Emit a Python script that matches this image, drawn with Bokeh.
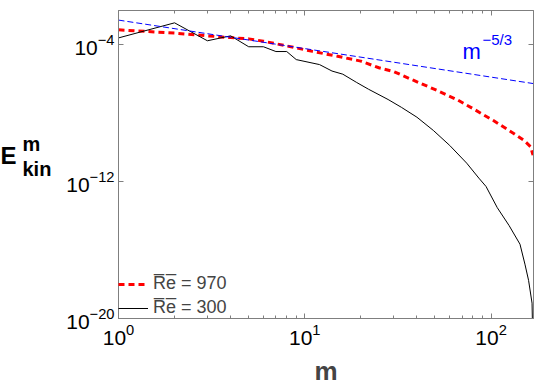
from bokeh.plotting import figure
from bokeh.models import (FixedTicker, LogAxis, Label, Legend, LegendItem, Range1d,
                          CustomJSTickFormatter)
from bokeh.embed import file_html
from bokeh.resources import INLINE

# ---- data ----
m_300 = [1, 2, 3, 4, 5, 6, 7, 8, 9, 12, 14, 16, 19, 22, 28, 33, 40, 49, 60,
         74, 86, 94, 108, 125, 143, 152, 159, 166, 168]
E_300 = [2.5e-4, 1.9e-3, 1.7e-4, 3.3e-4, 7.6e-5, 7.6e-5, 4.0e-5, 4.0e-5, 1.35e-5,
         6.9e-6, 2.9e-6, 1.9e-6, 6.2e-7, 2.5e-7, 6.3e-8, 2.2e-8, 5.8e-9, 9.8e-10,
         1.3e-10, 1.2e-11, 1.6e-12, 5.2e-13, 3.0e-14, 2.7e-15, 2.2e-16, 1.5e-17,
         1.7e-18, 7.9e-20, 1e-22]

m_970 = [1, 2, 3, 4, 5, 6, 9, 11, 15, 20, 25, 30, 38, 51, 66, 81, 103, 133,
         150, 163, 168]
E_970 = [7.4e-4, 4.8e-4, 3.3e-4, 2.6e-4, 2.2e-4, 1.6e-4, 6.5e-5, 4.1e-5, 2.1e-5,
         1.1e-5, 4.5e-6, 2.7e-6, 8.7e-7, 2.2e-7, 6.0e-8, 1.7e-8, 3.7e-9, 6.3e-10,
         2.6e-10, 1.1e-10, 3.5e-11]

m_slope = [1, 168]
E_slope = [2.75e-3, 5.4e-7]

x_major = [1, 10, 100]
x_minor = [2, 3, 4, 5, 6, 7, 8, 9, 20, 30, 40, 50, 60, 70, 80, 90]
y_major = [1e-20, 1e-12, 1e-4]

labels = ["R\u0305e\u0305 = 970", "R\u0305e\u0305 = 300"]

FONT = "Liberation Sans"
GRAY = "#7f7f7f"

p = figure(width=540, height=388, x_axis_type="log", y_axis_type="log",
           x_range=Range1d(1, 169), y_range=Range1d(1e-20, 1e-2),
           output_backend="svg", toolbar_location=None,
           min_border_left=118, min_border_right=7, min_border_top=10,
           min_border_bottom=66)
p.xgrid.visible = False
p.ygrid.visible = False
p.outline_line_color = GRAY
p.background_fill_color = "white"
p.border_fill_color = "white"

r970 = p.line(m_970, E_970, line_color="#ff0000", line_width=3, line_dash="6 4")
r300 = p.line(m_300, E_300, line_color="black", line_width=1)
p.line(m_slope, E_slope, line_color="#0000ff", line_width=1, line_dash="6 3")

def style(ax, show_labels):
    ax.axis_line_color = GRAY
    ax.major_tick_line_color = GRAY
    ax.minor_tick_line_color = GRAY
    ax.major_tick_in = 5
    ax.major_tick_out = 0
    ax.minor_tick_in = 3
    ax.minor_tick_out = 0
    if show_labels:
        ax.major_label_text_font = FONT
        ax.major_label_text_font_size = "21px"
        ax.major_label_text_color = "black"
    else:
        ax.formatter = CustomJSTickFormatter(code="return ''")
        ax.major_label_text_font_size = "1px"
        ax.major_label_text_alpha = 0
        ax.major_label_standoff = 0
        ax.axis_label_text_font_size = "1px"
        ax.axis_label_standoff = 0

xa = p.xaxis[0]
xa.ticker = FixedTicker(ticks=x_major, minor_ticks=x_minor)
style(xa, True)
xa.major_label_standoff = 5
xa.axis_label = "m"
xa.axis_label_text_font = FONT
xa.axis_label_text_font_style = "bold"
xa.axis_label_text_font_size = "26px"
xa.axis_label_standoff = 8

ya = p.yaxis[0]
ya.ticker = FixedTicker(ticks=y_major)
style(ya, True)
ya.major_label_standoff = 4

top = LogAxis(ticker=FixedTicker(ticks=x_major, minor_ticks=x_minor))
style(top, False)
p.add_layout(top, "above")
right = LogAxis(ticker=FixedTicker(ticks=y_major))
style(right, False)
p.add_layout(right, "right")

# y-axis label E^m_kin, placed in the left side panel (one slot per part)
for txt, sx, sy, fs in [("E", -47, 163, "24px"), ("m", -7, 175, "20px"),
                        ("kin", 22, 150, "20px")]:
    p.add_layout(Label(x=sx, y=sy, x_units="screen", y_units="screen", text=txt,
                       text_font=FONT, text_font_style="bold", text_font_size=fs,
                       text_baseline="alphabetic", text_color="black"), "left")

# slope annotation m^{-5/3}
p.add_layout(Label(x=344, y=267, x_units="screen", y_units="screen", text="m",
                   text_font=FONT, text_font_size="22px", text_color="#0000ff",
                   text_baseline="alphabetic"))
p.add_layout(Label(x=364, y=279, x_units="screen", y_units="screen", text="\u22125/3",
                   text_font=FONT, text_font_size="15px", text_color="#0000ff",
                   text_baseline="alphabetic"))

legend = Legend(items=[LegendItem(label=labels[0], renderers=[r970]),
                       LegendItem(label=labels[1], renderers=[r300])],
                location="bottom_left", margin=0, padding=9, spacing=3,
                glyph_width=30, label_standoff=5,
                label_text_font=FONT, label_text_font_size="18px",
                border_line_color=None, background_fill_alpha=0)
p.add_layout(legend)

open("out.html", "w").write(file_html(p, INLINE))
